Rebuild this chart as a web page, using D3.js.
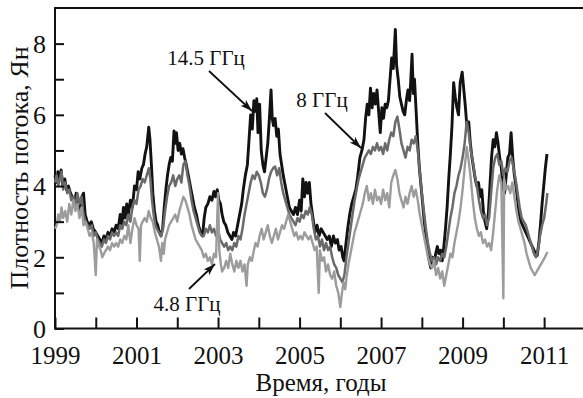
<!DOCTYPE html>
<html>
<head>
<meta charset="utf-8">
<script src="https://cdn.jsdelivr.net/npm/d3@7"></script>
<style>
  html, body { margin: 0; padding: 0; background: #fff; }
  svg { display: block; }
  text { font-family: "Liberation Serif", "Times New Roman", serif; fill: #111; }
</style>
</head>
<body>
<svg id="chart" width="583" height="398"></svg>
<script>
// Flux density light curves, [year, Jy]
const flux145 = [
  [1999.00,4.3],[1999.04,4.1],[1999.07,4.4],[1999.11,4.2],[1999.15,4.45],[1999.19,4.0],[1999.24,4.2],[1999.28,3.9],
  [1999.33,4.0],[1999.38,3.8],[1999.42,3.7],[1999.47,3.5],[1999.52,3.8],[1999.56,3.6],[1999.61,3.3],[1999.66,3.7],
  [1999.70,3.8],[1999.74,3.2],[1999.79,3.0],[1999.84,2.9],[1999.89,3.0],[1999.94,2.8],[2000.00,2.7],[2000.05,2.6],
  [2000.10,2.5],[2000.15,2.4],[2000.20,2.6],[2000.25,2.5],[2000.30,2.7],[2000.35,2.6],[2000.40,2.8],[2000.45,2.7],
  [2000.50,2.9],[2000.55,2.8],[2000.60,3.2],[2000.64,2.9],[2000.68,3.4],[2000.72,3.1],[2000.76,3.5],[2000.80,3.2],
  [2000.85,3.6],[2000.90,3.4],[2000.95,4.0],[2001.00,3.9],[2001.04,4.4],[2001.08,4.2],[2001.13,4.5],[2001.17,4.6],
  [2001.21,4.9],[2001.25,5.1],[2001.30,5.65],[2001.33,5.3],[2001.37,4.5],[2001.40,3.8],[2001.44,3.3],[2001.48,3.0],
  [2001.52,2.9],[2001.56,2.7],[2001.60,2.6],[2001.64,2.8],[2001.68,3.4],[2001.72,3.9],[2001.76,4.3],[2001.80,4.6],
  [2001.84,4.8],[2001.88,4.7],[2001.92,5.55],[2001.95,5.2],[2001.98,5.5],[2002.02,5.0],[2002.06,5.2],[2002.10,4.9],
  [2002.14,5.05],[2002.18,4.8],[2002.22,4.6],[2002.27,4.3],[2002.32,4.0],[2002.37,3.7],[2002.42,3.4],[2002.47,3.2],
  [2002.52,2.9],[2002.57,2.7],[2002.62,2.6],[2002.66,3.1],[2002.70,3.4],[2002.75,3.5],[2002.80,3.7],[2002.85,3.6],
  [2002.90,3.85],[2002.94,3.7],[2002.98,3.9],[2003.02,3.6],[2003.06,3.5],[2003.10,3.2],[2003.14,3.0],[2003.19,2.9],
  [2003.24,2.7],[2003.29,2.6],[2003.34,2.5],[2003.38,2.7],[2003.43,2.6],[2003.48,2.9],[2003.53,3.2],[2003.58,3.5],
  [2003.62,3.9],[2003.67,4.3],[2003.72,4.6],[2003.76,5.3],[2003.80,6.0],[2003.84,5.6],[2003.88,6.4],[2003.92,6.1],
  [2003.95,6.45],[2003.98,5.5],[2004.02,6.3],[2004.06,5.0],[2004.10,4.6],[2004.14,4.4],[2004.18,4.8],[2004.22,5.2],
  [2004.26,5.9],[2004.30,6.7],[2004.33,5.9],[2004.36,5.7],[2004.40,5.9],[2004.44,5.4],[2004.48,5.6],[2004.52,4.9],
  [2004.56,4.6],[2004.60,4.3],[2004.65,4.0],[2004.70,3.7],[2004.75,3.4],[2004.80,3.3],[2004.85,3.2],[2004.90,3.4],
  [2004.95,3.2],[2005.00,3.6],[2005.04,3.3],[2005.08,4.2],[2005.12,3.7],[2005.16,4.1],[2005.20,3.8],[2005.24,4.1],
  [2005.28,3.5],[2005.33,3.1],[2005.38,2.7],[2005.43,2.9],[2005.48,2.6],[2005.53,2.8],[2005.58,2.7],[2005.63,2.6],
  [2005.68,2.5],[2005.73,2.6],[2005.78,2.3],[2005.83,2.6],[2005.88,2.4],[2005.93,2.5],[2005.97,2.2],[2006.02,2.3],
  [2006.06,2.0],[2006.09,1.9],[2006.13,2.3],[2006.18,2.8],[2006.23,3.2],[2006.28,3.5],[2006.33,3.7],[2006.38,3.9],
  [2006.43,4.3],[2006.48,4.8],[2006.53,5.0],[2006.58,5.3],[2006.62,5.9],[2006.66,6.3],[2006.70,6.0],[2006.74,6.75],
  [2006.78,6.2],[2006.82,6.6],[2006.86,6.3],[2006.90,6.7],[2006.94,6.1],[2006.98,5.5],[2007.02,6.2],[2007.06,5.9],
  [2007.10,6.3],[2007.14,6.2],[2007.18,6.4],[2007.22,7.0],[2007.26,7.6],[2007.30,7.3],[2007.35,8.4],[2007.38,7.4],
  [2007.42,7.0],[2007.46,6.5],[2007.50,6.3],[2007.54,6.1],[2007.58,6.0],[2007.62,6.4],[2007.66,6.7],[2007.70,6.4],
  [2007.73,7.0],[2007.76,7.7],[2007.79,6.6],[2007.82,7.0],[2007.86,6.1],[2007.90,5.2],[2007.94,4.5],[2007.98,4.0],
  [2008.02,3.5],[2008.06,3.0],[2008.10,2.6],[2008.14,2.2],[2008.18,1.9],[2008.22,1.7],[2008.26,2.0],[2008.30,1.8],
  [2008.34,2.1],[2008.38,2.3],[2008.42,2.1],[2008.46,2.2],[2008.50,1.9],[2008.54,2.3],[2008.58,2.8],[2008.62,3.4],
  [2008.66,4.2],[2008.70,4.9],[2008.74,5.7],[2008.78,6.9],[2008.82,6.5],[2008.86,6.2],[2008.90,6.0],[2008.94,6.9],
  [2008.99,7.2],[2009.03,6.7],[2009.07,6.2],[2009.11,5.6],[2009.15,5.8],[2009.19,5.2],[2009.23,4.8],[2009.27,4.5],
  [2009.31,4.2],[2009.35,4.0],[2009.39,4.1],[2009.43,3.7],[2009.47,3.9],[2009.51,3.3],[2009.55,3.0],[2009.59,2.8],
  [2009.63,3.2],[2009.67,4.0],[2009.71,4.8],[2009.75,5.3],[2009.79,5.1],[2009.83,5.5],[2009.87,5.2],[2009.91,4.8],
  [2009.95,4.5],[2009.99,4.0],[2010.03,3.8],[2010.07,4.3],[2010.11,4.8],[2010.15,4.9],[2010.19,5.5],[2010.23,4.8],
  [2010.27,4.3],[2010.31,4.0],[2010.35,3.6],[2010.39,3.2],[2010.43,3.0],[2010.47,2.9],[2010.51,2.8],[2010.55,2.7],
  [2010.59,2.6],[2010.63,2.5],[2010.67,2.4],[2010.71,2.3],[2010.75,2.2],[2010.79,2.1],[2010.83,2.05],[2010.87,2.4],
  [2010.91,2.9],[2010.95,3.5],[2010.99,4.0],[2011.03,4.5],[2011.07,4.9]
];

const flux8 = [
  [1999.00,4.1],[1999.04,4.3],[1999.08,4.0],[1999.12,4.2],[1999.16,4.4],[1999.20,3.9],[1999.25,4.1],[1999.30,3.8],
  [1999.35,3.9],[1999.40,3.6],[1999.45,3.7],[1999.50,3.4],[1999.55,3.8],[1999.60,3.5],[1999.65,3.7],[1999.70,3.2],
  [1999.75,3.0],[1999.80,2.9],[1999.85,2.8],[1999.90,2.9],[1999.95,2.6],[2000.00,2.7],[2000.05,2.5],[2000.10,2.4],
  [2000.15,2.3],[2000.20,2.5],[2000.25,2.4],[2000.30,2.6],[2000.35,2.5],[2000.40,2.7],[2000.45,2.6],[2000.50,2.7],
  [2000.55,2.6],[2000.60,2.9],[2000.65,2.8],[2000.70,3.0],[2000.75,2.9],[2000.80,3.2],[2000.85,3.0],[2000.90,3.4],
  [2000.95,3.6],[2001.00,3.5],[2001.05,3.9],[2001.10,4.0],[2001.15,4.2],[2001.20,4.1],[2001.25,4.3],[2001.30,4.5],
  [2001.34,4.2],[2001.38,3.6],[2001.42,3.2],[2001.46,2.9],[2001.50,2.8],[2001.55,2.7],[2001.60,2.6],[2001.65,2.8],
  [2001.70,3.3],[2001.75,3.7],[2001.80,4.0],[2001.85,4.1],[2001.90,4.3],[2001.95,4.0],[2002.00,4.2],[2002.05,4.3],
  [2002.10,4.1],[2002.15,4.6],[2002.20,4.7],[2002.25,4.3],[2002.30,4.0],[2002.35,3.6],[2002.40,3.3],[2002.45,3.1],
  [2002.50,2.9],[2002.55,2.7],[2002.60,2.6],[2002.65,2.6],[2002.70,2.8],[2002.75,2.7],[2002.80,2.9],[2002.85,2.7],
  [2002.90,2.8],[2002.95,2.6],[2003.00,2.8],[2003.05,2.5],[2003.10,2.4],[2003.15,2.3],[2003.20,2.4],[2003.25,2.2],
  [2003.30,2.3],[2003.35,2.2],[2003.40,2.4],[2003.45,2.3],[2003.50,2.6],[2003.55,2.5],[2003.60,2.8],[2003.65,3.2],
  [2003.70,3.5],[2003.75,3.8],[2003.80,4.1],[2003.85,4.3],[2003.90,4.2],[2003.95,4.4],[2004.00,4.3],[2004.05,4.1],
  [2004.10,3.8],[2004.15,3.7],[2004.20,3.9],[2004.25,4.2],[2004.30,4.4],[2004.35,4.5],[2004.40,4.55],[2004.45,4.3],
  [2004.50,4.5],[2004.55,4.1],[2004.60,3.8],[2004.65,3.6],[2004.70,3.4],[2004.75,3.2],[2004.80,3.1],[2004.85,3.0],
  [2004.90,2.9],[2004.95,3.1],[2005.00,3.0],[2005.05,3.2],[2005.10,3.1],[2005.15,3.3],[2005.20,3.2],[2005.25,3.4],
  [2005.30,3.2],[2005.35,2.8],[2005.40,2.5],[2005.45,2.6],[2005.50,2.3],[2005.55,2.5],[2005.60,2.2],[2005.65,2.4],
  [2005.70,2.2],[2005.75,2.3],[2005.80,2.0],[2005.85,1.8],[2005.90,1.7],[2005.95,1.5],[2006.00,1.4],[2006.05,1.3],
  [2006.10,1.5],[2006.15,2.0],[2006.20,2.4],[2006.25,2.8],[2006.30,3.2],[2006.35,3.6],[2006.40,3.9],[2006.45,4.2],
  [2006.50,4.4],[2006.55,4.6],[2006.60,4.8],[2006.65,4.9],[2006.70,5.0],[2006.75,4.9],[2006.80,5.1],[2006.85,5.0],
  [2006.90,5.2],[2006.95,5.0],[2007.00,5.1],[2007.05,4.9],[2007.10,5.2],[2007.15,5.0],[2007.20,5.3],[2007.25,5.5],
  [2007.30,5.4],[2007.35,5.8],[2007.40,5.95],[2007.45,5.6],[2007.50,5.2],[2007.55,5.0],[2007.60,4.8],[2007.65,5.1],
  [2007.70,5.0],[2007.75,5.3],[2007.80,5.2],[2007.85,5.4],[2007.90,5.0],[2007.95,4.4],[2008.00,3.8],[2008.05,3.3],
  [2008.10,2.8],[2008.15,2.4],[2008.20,2.1],[2008.25,1.9],[2008.30,2.0],[2008.35,1.8],[2008.40,2.0],[2008.45,1.9],
  [2008.50,2.1],[2008.55,2.0],[2008.60,2.3],[2008.65,2.7],[2008.70,3.1],[2008.75,3.4],[2008.80,3.8],[2008.85,4.0],
  [2008.90,4.3],[2008.95,4.5],[2009.00,4.8],[2009.05,5.2],[2009.10,5.8],[2009.15,5.5],[2009.20,5.0],[2009.25,4.7],
  [2009.30,4.3],[2009.35,4.0],[2009.40,3.6],[2009.45,3.3],[2009.50,3.1],[2009.55,3.2],[2009.60,2.9],[2009.65,3.1],
  [2009.70,3.8],[2009.75,4.5],[2009.80,4.8],[2009.85,4.9],[2009.90,4.6],[2009.95,4.7],[2010.00,4.3],[2010.05,4.5],
  [2010.10,4.4],[2010.15,4.7],[2010.20,4.8],[2010.25,4.5],[2010.30,4.2],[2010.35,3.8],[2010.40,3.4],[2010.45,3.1],
  [2010.50,3.0],[2010.55,2.9],[2010.60,2.7],[2010.65,2.5],[2010.70,2.3],[2010.75,2.1],[2010.80,2.0],[2010.85,2.2],
  [2010.90,2.6],[2010.95,2.9],[2011.00,3.1],[2011.05,3.5],[2011.08,3.8]
];

const flux48 = [
  [1999.00,2.8],[1999.04,2.9],[1999.08,3.2],[1999.12,3.0],[1999.16,3.4],[1999.20,3.1],[1999.25,3.3],[1999.30,3.0],
  [1999.35,3.5],[1999.40,3.2],[1999.45,3.6],[1999.50,3.3],[1999.55,3.5],[1999.60,3.1],[1999.65,3.4],[1999.70,2.9],
  [1999.75,3.0],[1999.80,2.8],[1999.85,2.6],[1999.90,2.7],[1999.95,2.4],[2000.00,1.5],[2000.03,2.5],[2000.08,2.3],
  [2000.12,2.2],[2000.16,2.0],[2000.20,2.1],[2000.25,2.2],[2000.30,2.3],[2000.35,2.2],[2000.40,2.4],[2000.45,2.3],
  [2000.50,2.4],[2000.55,2.3],[2000.60,2.5],[2000.65,2.4],[2000.70,2.6],[2000.75,2.5],[2000.80,2.9],[2000.85,2.4],
  [2000.90,2.8],[2000.95,3.1],[2001.00,2.9],[2001.05,2.8],[2001.08,1.9],[2001.11,2.9],[2001.15,3.0],[2001.20,3.1],
  [2001.25,3.0],[2001.30,3.3],[2001.35,3.1],[2001.40,3.0],[2001.45,2.7],[2001.50,2.5],[2001.55,2.3],[2001.60,1.9],
  [2001.63,2.4],[2001.67,2.1],[2001.70,2.5],[2001.75,2.7],[2001.80,2.9],[2001.85,3.0],[2001.90,3.1],[2001.95,3.2],
  [2002.00,3.0],[2002.05,3.3],[2002.10,3.5],[2002.15,3.7],[2002.20,3.6],[2002.25,3.4],[2002.30,3.2],[2002.35,2.9],
  [2002.40,2.7],[2002.45,2.5],[2002.50,2.4],[2002.55,2.3],[2002.60,2.2],[2002.65,2.0],[2002.70,2.1],[2002.75,1.9],
  [2002.80,2.0],[2002.85,1.8],[2002.90,2.1],[2002.95,2.0],[2003.00,3.8],[2003.03,2.2],[2003.07,1.8],[2003.10,1.6],
  [2003.15,1.7],[2003.20,1.9],[2003.25,1.7],[2003.30,2.1],[2003.35,1.8],[2003.40,1.6],[2003.45,1.9],[2003.50,1.7],
  [2003.55,1.9],[2003.60,1.6],[2003.65,1.8],[2003.70,1.2],[2003.73,1.8],[2003.78,2.0],[2003.83,1.9],[2003.88,2.2],
  [2003.92,2.4],[2003.97,2.3],[2004.02,2.6],[2004.07,2.8],[2004.12,2.5],[2004.17,2.7],[2004.22,2.9],[2004.27,2.6],
  [2004.32,2.4],[2004.37,2.6],[2004.42,2.8],[2004.47,2.5],[2004.52,2.7],[2004.57,2.9],[2004.62,2.8],[2004.67,3.0],
  [2004.72,3.2],[2004.77,3.0],[2004.82,2.8],[2004.87,2.6],[2004.92,2.7],[2004.97,2.5],[2005.02,2.6],[2005.07,2.5],
  [2005.12,2.7],[2005.17,2.6],[2005.22,2.5],[2005.27,2.6],[2005.32,2.4],[2005.37,2.2],[2005.42,2.3],[2005.47,1.0],
  [2005.50,2.2],[2005.55,1.9],[2005.60,2.0],[2005.65,1.6],[2005.70,1.8],[2005.75,1.5],[2005.80,1.4],[2005.85,1.6],
  [2005.90,1.2],[2005.95,1.0],[2006.00,0.6],[2006.04,1.0],[2006.08,1.3],[2006.12,1.1],[2006.16,1.5],[2006.20,1.8],
  [2006.25,2.1],[2006.30,2.4],[2006.35,2.7],[2006.40,2.9],[2006.45,3.1],[2006.50,3.3],[2006.55,3.5],[2006.60,3.8],
  [2006.65,4.0],[2006.70,3.6],[2006.75,3.8],[2006.80,3.5],[2006.85,3.9],[2006.90,3.6],[2006.95,3.7],[2007.00,3.5],
  [2007.05,3.9],[2007.10,3.6],[2007.15,3.8],[2007.20,3.4],[2007.25,4.1],[2007.30,4.3],[2007.35,4.45],[2007.40,4.2],
  [2007.45,3.8],[2007.50,3.6],[2007.55,3.4],[2007.60,3.7],[2007.65,3.5],[2007.70,3.8],[2007.75,4.0],[2007.80,3.7],
  [2007.85,3.9],[2007.90,3.6],[2007.95,3.2],[2008.00,2.9],[2008.05,2.6],[2008.10,2.3],[2008.15,2.0],[2008.20,1.8],
  [2008.25,1.7],[2008.30,1.9],[2008.35,1.5],[2008.40,1.7],[2008.45,1.4],[2008.50,1.6],[2008.55,1.2],[2008.60,1.5],
  [2008.65,1.8],[2008.70,2.1],[2008.75,2.0],[2008.80,2.4],[2008.85,2.7],[2008.90,3.0],[2008.95,3.4],[2009.00,3.9],
  [2009.05,4.5],[2009.10,5.1],[2009.15,4.7],[2009.20,4.2],[2009.25,3.6],[2009.30,3.1],[2009.35,2.8],[2009.40,2.6],
  [2009.45,2.7],[2009.50,2.4],[2009.55,2.5],[2009.60,2.3],[2009.65,2.4],[2009.70,2.2],[2009.75,2.7],[2009.80,3.3],
  [2009.85,3.9],[2009.90,4.3],[2009.95,4.1],[2010.00,0.85],[2010.02,4.2],[2010.07,3.9],[2010.12,4.0],[2010.17,3.8],
  [2010.22,4.1],[2010.27,3.7],[2010.32,3.3],[2010.37,3.0],[2010.42,2.8],[2010.47,2.6],[2010.52,2.4],[2010.57,2.1],
  [2010.62,1.9],[2010.67,1.7],[2010.72,1.6],[2010.77,1.5],[2010.82,1.6],[2010.87,1.7],[2010.92,1.8],[2010.97,1.9],
  [2011.02,2.0],[2011.08,2.15]
];

const yearTicks = d3.range(1999, 2012);
const yearLabels = [1999, 2001, 2003, 2005, 2007, 2009, 2011];
const fluxTicks = d3.range(0, 9);
const fluxLabels = [0, 2, 4, 6, 8];

const svg = d3.select("#chart");
const plotLeft = 55, plotTop = 8, plotBottom = 328.5;

const x = d3.scaleLinear().domain([1999, 2012.2]).range([plotLeft, plotLeft + 13.2 * 40.76]);
const y = d3.scaleLinear().domain([0, 9]).range([plotBottom, plotTop]);

// frame (right edge runs off the canvas)
svg.append("rect")
  .attr("x", plotLeft).attr("y", plotTop)
  .attr("width", x(2012.2) - plotLeft).attr("height", plotBottom - plotTop)
  .attr("fill", "none").attr("stroke", "#111").attr("stroke-width", 2);

// curves: highest frequency underneath
const line = d3.line().x(d => x(d[0])).y(d => y(d[1]));
const series = [
  { data: flux145, color: "#121212", width: 2.9 },
  { data: flux8,   color: "#6a6a6a", width: 2.5 },
  { data: flux48,  color: "#9c9c9c", width: 2.4 }
];
svg.append("g").selectAll("path").data(series).join("path")
  .attr("d", d => line(d.data))
  .attr("fill", "none")
  .attr("stroke", d => d.color)
  .attr("stroke-width", d => d.width)
  .attr("stroke-linejoin", "round");

// x axis, inward ticks
const gx = svg.append("g").attr("transform", `translate(0,${plotBottom})`)
  .call(d3.axisBottom(x).tickValues(yearTicks).tickSizeInner(-11).tickSizeOuter(0)
    .tickFormat(d => yearLabels.includes(d) ? String(d) : ""));
gx.select(".domain").remove();
gx.selectAll(".tick line").attr("stroke", "#111").attr("stroke-width", 2);
gx.selectAll(".tick text").attr("y", 35).attr("dy", 0)
  .style("font-size", "25px").attr("fill", "#111");

// y axis, inward ticks
const gy = svg.append("g").attr("transform", `translate(${plotLeft},0)`)
  .call(d3.axisLeft(y).tickValues(fluxTicks).tickSizeInner(-9).tickSizeOuter(0)
    .tickFormat(d => fluxLabels.includes(d) ? String(d) : ""));
gy.select(".domain").remove();
gy.selectAll(".tick line").attr("stroke", "#111").attr("stroke-width", 2);
gy.selectAll(".tick text").attr("x", -9).attr("dy", "0.34em")
  .style("font-size", "26px").attr("fill", "#111");

// axis titles
svg.append("text").attr("x", 321).attr("y", 391).attr("text-anchor", "middle")
  .style("font-size", "25px").text("Время, годы");
svg.append("text").attr("transform", "translate(28,168) rotate(-90)").attr("text-anchor", "middle")
  .style("font-size", "26px").text("Плотность потока, Ян");

// frequency labels with arrows
svg.append("defs").append("marker")
  .attr("id", "head").attr("viewBox", "0 0 12 8").attr("refX", 12).attr("refY", 4)
  .attr("markerWidth", 12).attr("markerHeight", 8).attr("markerUnits", "userSpaceOnUse")
  .attr("orient", "auto")
  .append("path").attr("d", "M0,0 L12,4 L0,8 L3,4 Z").attr("fill", "#111");

const notes = [
  { label: "14.5 ГГц", tx: 206, ty: 65, from: [209, 71], to: [252, 111] },
  { label: "8 ГГц",    tx: 322, ty: 107, from: [325, 113], to: [361, 148] },
  { label: "4.8 ГГц",  tx: 187, ty: 311, from: [189, 289], to: [215, 264] }
];
notes.forEach(n => {
  svg.append("text").attr("x", n.tx).attr("y", n.ty).attr("text-anchor", "middle")
    .style("font-size", "21px").text(n.label);
  svg.append("line")
    .attr("x1", n.from[0]).attr("y1", n.from[1]).attr("x2", n.to[0]).attr("y2", n.to[1])
    .attr("stroke", "#111").attr("stroke-width", 1.8).attr("marker-end", "url(#head)");
});
</script>
</body>
</html>
